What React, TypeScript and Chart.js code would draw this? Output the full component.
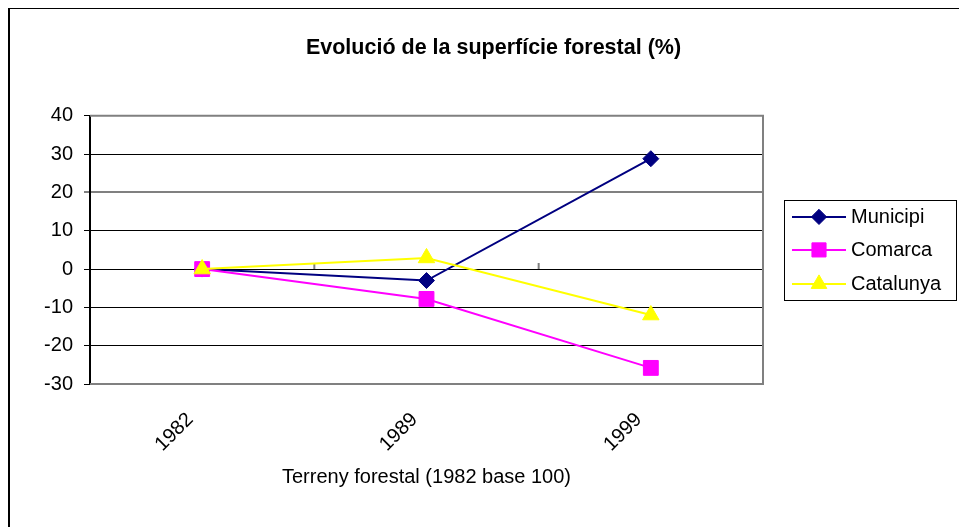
import { useEffect, useRef } from "react";
import { Chart, registerables } from "chart.js";
import { drawPoint } from "chart.js/helpers";

Chart.register(...registerables);

const categories = ["1982", "1989", "1999"];
const municipi = [0, -3, 28.8];
const comarca = [0, -7.8, -25.8];
const catalunya = [0, 2.9, -12];
const seriesNames = ["Municipi", "Comarca", "Catalunya"];
const seriesColors = ["#000080", "#FF00FF", "#FFFF00"];
const seriesShapes = ["rectRot", "rect", "triangle"];
const seriesRadius = [8, 10.5, 9.5];
const yMin = -30;
const yMax = 40;
const yStep = 10;
const chartTitle = "Evolució de la superfície forestal (%)";
const xTitle = "Terreny forestal (1982 base 100)";

const FONT = "'Liberation Sans', Arial, sans-serif";

const framePlugin = {
  id: "frame",
  beforeDatasetsDraw(chart: any) {
    const { ctx, chartArea, scales } = chart;
    const { left, right, top, bottom } = chartArea;
    ctx.save();
    ctx.strokeStyle = "#808080";
    ctx.lineWidth = 2;
    ctx.beginPath();
    ctx.moveTo(left, top);
    ctx.lineTo(right, top);
    ctx.lineTo(right, bottom);
    ctx.lineTo(left, bottom);
    ctx.stroke();
    const y0 = scales.y.getPixelForValue(0);
    const x = scales.x;
    ctx.beginPath();
    for (let i = 1; i <= categories.length; i++) {
      const px = i < categories.length
        ? (x.getPixelForValue(i - 1) + x.getPixelForValue(i)) / 2
        : right;
      ctx.moveTo(px, y0 - 6);
      ctx.lineTo(px, y0);
    }
    ctx.stroke();
    ctx.restore();
  },
};

const legendPlugin = {
  id: "boxLegend",
  afterDraw(chart: any) {
    const { ctx, chartArea } = chart;
    const mid = (chartArea.top + chartArea.bottom) / 2;
    const x0 = chartArea.right + 21;
    const w = 172;
    const h = 100;
    const y0 = mid - h / 2;
    ctx.save();
    ctx.fillStyle = "#fff";
    ctx.fillRect(x0, y0, w, h);
    ctx.strokeStyle = "#000";
    ctx.lineWidth = 1;
    ctx.strokeRect(Math.round(x0) + 0.5, Math.round(y0) + 0.5, w, h);
    const rows = [mid - 33, mid, mid + 34];
    seriesNames.forEach((name, i) => {
      const y = rows[i];
      ctx.strokeStyle = seriesColors[i];
      ctx.fillStyle = seriesColors[i];
      ctx.lineWidth = 2;
      ctx.beginPath();
      ctx.moveTo(x0 + 8, y);
      ctx.lineTo(x0 + 62, y);
      ctx.stroke();
      ctx.lineWidth = 1;
      drawPoint(ctx, { pointStyle: seriesShapes[i], radius: seriesRadius[i] * 0.95, rotation: 0, borderWidth: 1 } as any, x0 + 35, y);
      ctx.fillStyle = "#000";
      ctx.font = `20px ${FONT}`;
      ctx.textBaseline = "middle";
      ctx.textAlign = "left";
      ctx.fillText(name, x0 + 67, y + 1);
    });
    ctx.restore();
  },
};

export default function App() {
  const canvasRef = useRef<HTMLCanvasElement | null>(null);

  useEffect(() => {
    document.documentElement.style.overflow = "hidden";
    document.body.style.overflow = "hidden";
    const canvas = canvasRef.current;
    if (!canvas) return;
    const seriesData = [municipi, comarca, catalunya];
    const chart = new Chart(canvas, {
      type: "line",
      data: {
        labels: categories,
        datasets: seriesNames.map((name, i) => ({
          label: name,
          data: seriesData[i],
          borderColor: seriesColors[i],
          backgroundColor: seriesColors[i],
          pointBackgroundColor: seriesColors[i],
          pointBorderColor: seriesColors[i],
          pointStyle: seriesShapes[i] as any,
          pointRadius: seriesRadius[i],
          pointBorderWidth: 1,
          borderWidth: 2,
          tension: 0,
          fill: false,
          yAxisID: "y",
          order: seriesNames.length - 1 - i,
        })),
      },
      options: {
        animation: false,
        responsive: true,
        maintainAspectRatio: false,
        devicePixelRatio: 1,
        layout: { padding: { left: 0, right: 0, top: 0, bottom: 38 } },
        plugins: {
          legend: { display: false },
          tooltip: { enabled: false },
          title: {
            display: true,
            text: chartTitle,
            color: "#000",
            font: { family: FONT, size: 21.5, weight: "bold" },
            padding: { top: 26, bottom: 55 },
          },
        },
        scales: {
          x: {
            type: "category",
            offset: true,
            grid: { display: false, drawTicks: false },
            border: { display: false },
            ticks: {
              color: "#000",
              font: { family: FONT, size: 20 },
              maxRotation: 45,
              minRotation: 45,
              padding: 24,
              labelOffset: -12,
            },
            title: {
              display: true,
              text: xTitle,
              color: "#000",
              font: { family: FONT, size: 20 },
              padding: { top: 0, bottom: 0 },
            },
            afterFit: (scale: any) => {
              scale.height = 105;
            },
          },
          y: {
            position: "left",
            min: yMin,
            max: yMax,
            ticks: {
              stepSize: yStep,
              color: "#000",
              font: { family: FONT, size: 20 },
              padding: 11,
            },
            grid: {
              color: (c: any) => (c.tick && c.tick.value === 20 ? "#808080" : "#000"),
              lineWidth: (c: any) => (c.tick && c.tick.value === 20 ? 2 : 1),
              tickColor: "#000",
              tickLength: 6,
              tickWidth: 1,
            },
            border: { display: true, color: "#000", width: 2 },
            afterFit: (scale: any) => {
              scale.width = 80;
            },
          },
          yRight: {
            position: "right",
            display: true,
            min: yMin,
            max: yMax,
            grid: { display: false, drawTicks: false },
            border: { display: false },
            ticks: { display: false },
            afterFit: (scale: any) => {
              scale.width = 214;
            },
          },
        },
      },
      plugins: [framePlugin, legendPlugin],
    });
    return () => chart.destroy();
  }, []);

  return (
    <div
      style={{
        border: "3px solid #000",
        margin: "-2px 0 0 -1px",
        width: 1000,
        height: 540,
        background: "#fff",
      }}
    >
      <div style={{ position: "relative", width: 967, height: 518 }}>
        <canvas ref={canvasRef} />
      </div>
    </div>
  );
}
